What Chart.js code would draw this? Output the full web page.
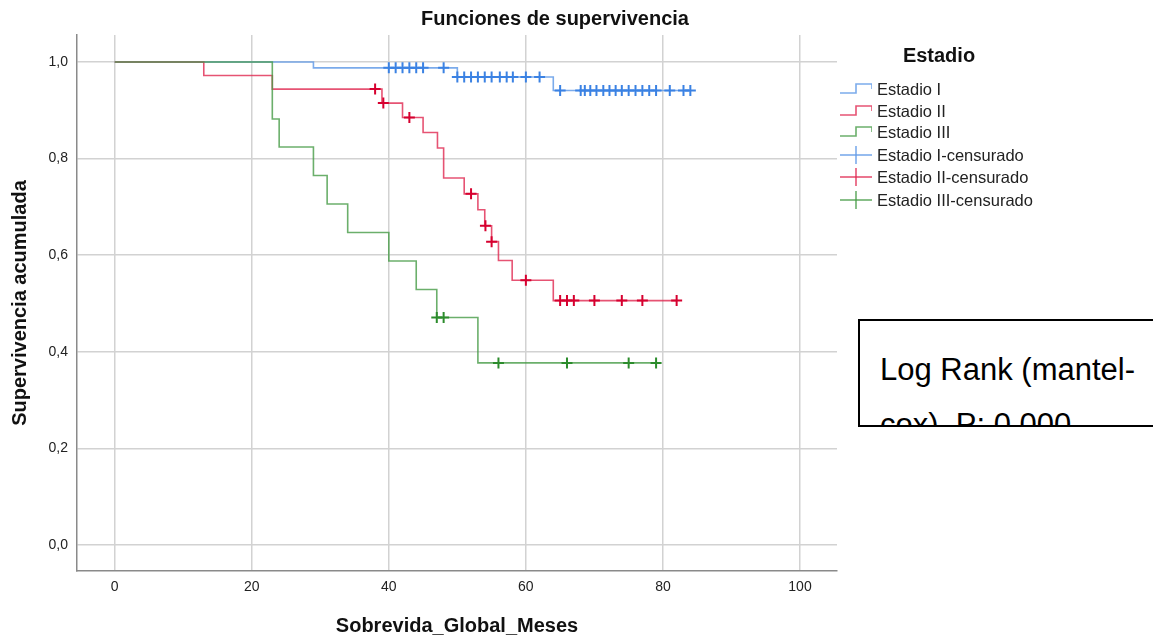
<!DOCTYPE html>
<html>
<head>
<meta charset="utf-8">
<script src="https://cdn.jsdelivr.net/npm/chart.js@4.4.1/dist/chart.umd.min.js"></script>
<style>
    body { margin: 0; background: #fff; }
    #wrap { position: relative; width: 1153px; height: 640px; overflow: hidden; font-family: 'Liberation Sans', Arial, sans-serif; }
    #myChart { position: absolute; left: 0; top: 0; }
    #title { position: absolute; left: 355px; width: 400px; top: 6px; text-align: center; font-weight: bold; font-size: 20px; line-height: 24px; color: #111; }
    #legend { position: absolute; left: 838px; top: 42px; width: 230px; }
    #legend .lt { position: absolute; left: 64px; width: 74px; top: 0; text-align: center; font-weight: bold; font-size: 20px; line-height: 26px; color: #111; }
    #legend .row { position: absolute; left: 0; height: 22px; display: flex; align-items: center; font-size: 16.5px; color: #222; white-space: nowrap; }
    #legend svg { margin-right: 5px; }
    #logrank { position: absolute; left: 858px; top: 319px; width: 310px; height: 104px; border: 2px solid #000; overflow: hidden; background: #fff; }
    #logrank div { padding: 21px 0 0 20px; font-size: 31px; line-height: 55px; color: #000; white-space: nowrap; }
</style>
</head>
<body>
<div id="wrap">
    <canvas id="myChart" width="1153" height="640"></canvas>
    <div id="title">Funciones de supervivencia</div>
    <div id="legend"></div>
    <div id="logrank"><div>Log Rank (mantel-<br>cox), P: 0,000</div></div>
</div>
<script>
// axis ticks
const X_TICKS = [0, 20, 40, 60, 80, 100];
const Y_TICKS = [0, 0.2, 0.4, 0.6, 0.8, 1.0];
const Y_TICK_LABELS = ['0,0', '0,2', '0,4', '0,6', '0,8', '1,0'];

const GROUPS = ['Estadio I', 'Estadio II', 'Estadio III'];

// Estadio I: event times / survival after each event, censored times, end of follow-up
const EVENT_T_I = [29, 50, 64];
const SURV_I    = [0.988, 0.969, 0.941];
const CENS_T_I  = [40, 41, 42, 43, 44, 45, 48,
                   50, 51, 52, 53, 54, 55, 56.2, 57.2, 58.1, 60, 62,
                   65, 68, 68.6, 69.4, 70.3, 71.3, 72.2, 73.1, 74, 75, 76, 77, 78, 79, 81, 83, 84];
const END_I = 84;

// Estadio II
const EVENT_T_II = [13, 23, 39, 42, 45, 47.1, 48, 51, 53, 54, 55, 56, 58, 64];
const SURV_II    = [0.972, 0.944, 0.915, 0.885, 0.854, 0.822, 0.760, 0.727, 0.694, 0.661, 0.628, 0.589, 0.548, 0.506];
const CENS_T_II  = [38, 39.2, 43, 52, 54.1, 55, 60, 65, 66, 67, 70, 74, 77, 82];
const END_II = 82;

// Estadio III
const EVENT_T_III = [23, 24, 29, 31, 34, 40, 44, 47, 53];
const SURV_III    = [0.882, 0.824, 0.765, 0.706, 0.647, 0.588, 0.529, 0.471, 0.377];
const CENS_T_III  = [47, 48, 56, 66, 75, 79];
const END_III = 79.5;

const LINE_COLORS  = ['rgba(100,156,232,0.85)', 'rgba(224,40,80,0.8)', 'rgba(70,155,70,0.8)'];
const CROSS_COLORS = ['#3b82e3', '#d6002f', '#2c8c2c'];

function stepPoints(times, surv, end) {
    const pts = [{ x: 0, y: 1 }];
    times.forEach((t, i) => pts.push({ x: t, y: surv[i] }));
    pts.push({ x: end, y: surv[surv.length - 1] });
    return pts;
}

function censorPoints(cens, times, surv) {
    return cens.map(t => {
        let s = 1;
        times.forEach((et, i) => { if (et <= t) s = surv[i]; });
        return { x: t, y: s };
    });
}

const stepData = [
    stepPoints(EVENT_T_I, SURV_I, END_I),
    stepPoints(EVENT_T_II, SURV_II, END_II),
    stepPoints(EVENT_T_III, SURV_III, END_III)
];
const censData = [
    censorPoints(CENS_T_I, EVENT_T_I, SURV_I),
    censorPoints(CENS_T_II, EVENT_T_II, SURV_II),
    censorPoints(CENS_T_III, EVENT_T_III, SURV_III)
];

const datasets = [];
GROUPS.forEach((g, i) => {
    datasets.push({
        label: g,
        data: stepData[i],
        showLine: true,
        stepped: true,
        borderColor: LINE_COLORS[i],
        borderWidth: 1.6,
        pointRadius: 0,
        fill: false,
        order: 6 - i        // Estadio III drawn on top, as in SPSS
    });
});
GROUPS.forEach((g, i) => {
    datasets.push({
        label: g + '-censurado',
        data: censData[i],
        showLine: false,
        pointStyle: 'cross',
        pointRadius: 5.5,
        pointBorderWidth: 2,
        pointBorderColor: CROSS_COLORS[i],
        pointBackgroundColor: CROSS_COLORS[i],
        order: 3 - i
    });
});

const FONT = "'Liberation Sans', Arial, sans-serif";

new Chart(document.getElementById('myChart').getContext('2d'), {
    type: 'scatter',
    data: { datasets: datasets },
    options: {
        responsive: false,
        animation: false,
        layout: { padding: { top: 35, right: 316, bottom: 0, left: 0 } },
        plugins: {
            legend: { display: false },
            tooltip: { enabled: false },
            title: { display: false }
        },
        scales: {
            x: {
                type: 'linear',
                min: -5.5,
                max: 105.4,
                afterBuildTicks: s => { s.ticks = X_TICKS.map(v => ({ value: v })); },
                afterFit: s => { s.height = 69; },
                grid: { color: '#d2d2d2', lineWidth: 1.5, drawTicks: false },
                border: { display: true, color: '#8a8a8a', width: 1.5 },
                ticks: { padding: 8, color: '#222', font: { family: FONT, size: 14 }, callback: v => String(v) },
                title: {
                    display: true,
                    text: 'Sobrevida_Global_Meses',
                    color: '#111',
                    font: { family: FONT, size: 20, weight: 'bold' },
                    padding: { top: 0, bottom: 2 }
                }
            },
            y: {
                type: 'linear',
                min: -0.054,
                max: 1.056,
                afterBuildTicks: s => { s.ticks = Y_TICKS.map(v => ({ value: v })); },
                afterFit: s => { s.width = 77; },
                grid: { color: '#d2d2d2', lineWidth: 1.5, drawTicks: false },
                border: { display: true, color: '#8a8a8a', width: 1.5 },
                ticks: {
                    padding: 9, color: '#222', font: { family: FONT, size: 14 },
                    callback: v => Y_TICK_LABELS[Y_TICKS.findIndex(t => Math.abs(t - v) < 1e-6)]
                },
                title: {
                    display: true,
                    text: 'Supervivencia acumulada',
                    color: '#111',
                    font: { family: FONT, size: 20, weight: 'bold' },
                    padding: { top: 8, bottom: 0 }
                }
            }
        }
    }
});

// legend (same look as the SPSS key: step icons then crosses)
const legend = document.getElementById('legend');
legend.innerHTML = '<div class="lt">Estadio</div>';
const rowsTop = [36, 58, 79, 102, 124, 147];
datasets.forEach((ds, i) => {
    const k = i % 3;
    const icon = i < 3
        ? `<svg width="34" height="20"><polyline points="2,14 18,14 18,5 34,5 34,10" fill="none" stroke="${LINE_COLORS[k]}" stroke-width="1.6"/></svg>`
        : `<svg width="34" height="20"><line x1="2" y1="10" x2="34" y2="10" stroke="${LINE_COLORS[k]}" stroke-width="1.6"/><line x1="18" y1="1" x2="18" y2="19" stroke="${LINE_COLORS[k]}" stroke-width="1.6"/></svg>`;
    legend.innerHTML += `<div class="row" style="top:${rowsTop[i]}px">${icon}${ds.label}</div>`;
});
</script>
</body>
</html>
